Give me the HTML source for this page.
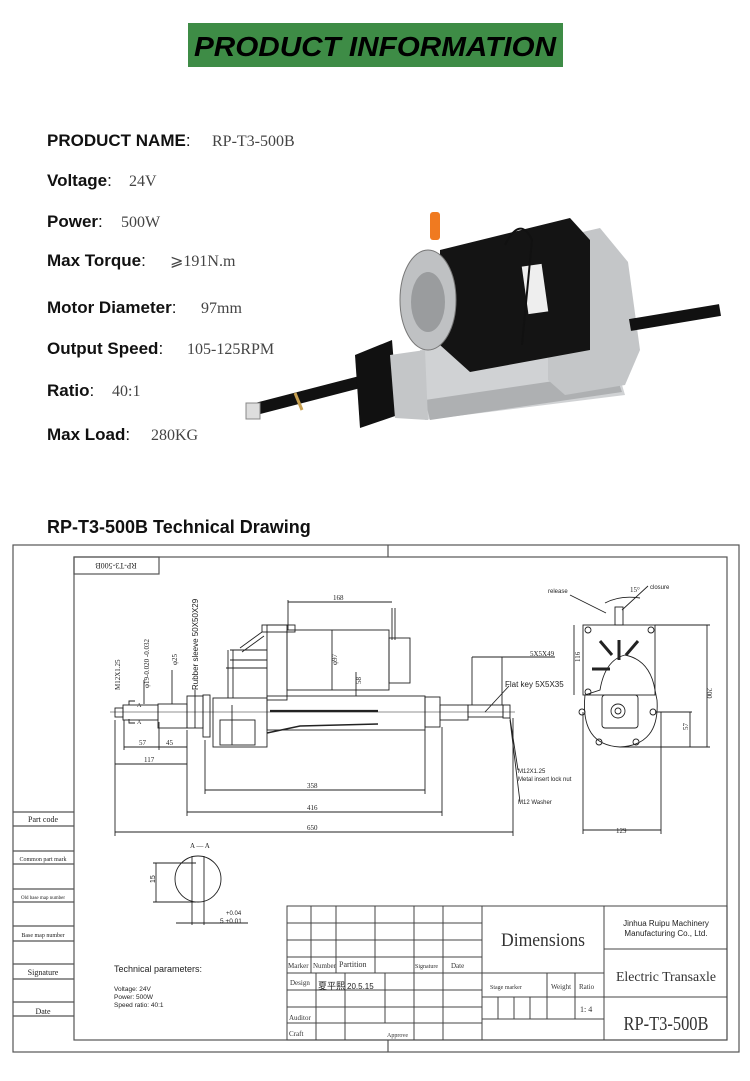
<!DOCTYPE html>
<html><head><meta charset="utf-8"><style>
html,body{margin:0;padding:0;background:#fff;width:750px;height:1081px;overflow:hidden}
svg{display:block}
</style></head><body>
<svg width="750" height="1081" viewBox="0 0 750 1081" xmlns="http://www.w3.org/2000/svg" font-family="Liberation Sans, sans-serif">
<!-- Header -->
<rect x="188" y="23" width="375" height="44" fill="#3e8c46"/>
<text x="375" y="56" text-anchor="middle" font-size="28" font-weight="bold" font-style="italic" fill="#000" textLength="362" lengthAdjust="spacingAndGlyphs">PRODUCT INFORMATION</text>

<g font-size="17" font-weight="bold" fill="#111">
<text x="47" y="146">PRODUCT NAME<tspan font-weight="normal">:</tspan></text>
<text x="47" y="186">Voltage<tspan font-weight="normal">:</tspan></text>
<text x="47" y="227">Power<tspan font-weight="normal">:</tspan></text>
<text x="47" y="266">Max Torque<tspan font-weight="normal">:</tspan></text>
<text x="47" y="313">Motor Diameter<tspan font-weight="normal">:</tspan></text>
<text x="47" y="354">Output Speed<tspan font-weight="normal">:</tspan></text>
<text x="47" y="396">Ratio<tspan font-weight="normal">:</tspan></text>
<text x="47" y="440">Max Load<tspan font-weight="normal">:</tspan></text>
</g>
<g font-family="Liberation Serif, serif" font-size="16" fill="#444">
<text x="212" y="146">RP-T3-500B</text>
<text x="129" y="186">24V</text>
<text x="121" y="227">500W</text>
<text x="170" y="266">⩾191N.m</text>
<text x="201" y="313">97mm</text>
<text x="187" y="354">105-125RPM</text>
<text x="112" y="396">40:1</text>
<text x="151" y="440">280KG</text>
</g>

<!-- Photo approximation -->
<g>
<line x1="252" y1="410" x2="360" y2="382" stroke="#111" stroke-width="12"/>
<rect x="246" y="403" width="14" height="16" fill="#ddd" stroke="#888"/>
<line x1="295" y1="393" x2="302" y2="410" stroke="#c8a050" stroke-width="3"/>
<polygon points="420,350 600,310 625,395 425,420" fill="#d0d2d4"/>
<polygon points="425,400 615,372 622,392 430,420" fill="#aeb0b2"/>
<polygon points="355,355 392,340 398,415 360,428" fill="#111"/>
<polygon points="390,355 425,350 428,420 395,418" fill="#c4c6c8"/>
<polygon points="548,240 600,228 628,262 640,350 625,385 565,395 548,380" fill="#c4c6c8"/>
<line x1="630" y1="325" x2="720" y2="310" stroke="#111" stroke-width="12"/>
<polygon points="440,250 570,218 590,240 590,350 470,372 440,345" fill="#141414"/>
<ellipse cx="428" cy="300" rx="28" ry="50" fill="#bfc1c3" stroke="#777"/>
<ellipse cx="428" cy="302" rx="17" ry="30" fill="#9a9c9e"/>
<rect x="525" y="265" width="20" height="48" fill="#eee" transform="rotate(-8 535 289)"/>
<rect x="430" y="212" width="10" height="28" fill="#f07a20" rx="3"/>
<path d="M505 245 Q520 215 532 240 L522 345" stroke="#111" fill="none" stroke-width="2"/>
</g>

<text x="47" y="533" font-size="18" font-weight="bold" fill="#111">RP-T3-500B Technical Drawing</text>

<!-- Drawing frame -->
<g stroke="#555" fill="none" stroke-width="1.2">
<rect x="13" y="545" width="726" height="507"/>
<rect x="74" y="557" width="653" height="483"/>
<line x1="388" y1="545" x2="388" y2="557"/>
<line x1="388" y1="1040" x2="388" y2="1052"/>
<rect x="74" y="557" width="85" height="17"/>
<line x1="13" y1="812" x2="74" y2="812"/><line x1="13" y1="826" x2="74" y2="826"/>
<line x1="13" y1="851" x2="74" y2="851"/><line x1="13" y1="864" x2="74" y2="864"/>
<line x1="13" y1="889" x2="74" y2="889"/><line x1="13" y1="902" x2="74" y2="902"/>
<line x1="13" y1="926" x2="74" y2="926"/><line x1="13" y1="941" x2="74" y2="941"/>
<line x1="13" y1="964" x2="74" y2="964"/><line x1="13" y1="979" x2="74" y2="979"/>
<line x1="13" y1="1002" x2="74" y2="1002"/><line x1="13" y1="1016" x2="74" y2="1016"/>
</g>
<g font-family="Liberation Serif, serif" fill="#222" text-anchor="middle">
<text x="116" y="569" font-size="8" transform="rotate(180 116 566)">RP-T3-500B</text>
<text x="43" y="822" font-size="8">Part code</text>
<text x="43" y="861" font-size="6">Common part mark</text>
<text x="43" y="899" font-size="5">Old base map  number</text>
<text x="43" y="937" font-size="6">Base map number</text>
<text x="43" y="975" font-size="8">Signature</text>
<text x="43" y="1014" font-size="8">Date</text>
</g>

<!-- Title block -->
<g stroke="#444" fill="none" stroke-width="1">
<rect x="287" y="906" width="440" height="134"/>
<line x1="287" y1="923" x2="482" y2="923"/><line x1="287" y1="940" x2="482" y2="940"/>
<line x1="287" y1="957" x2="482" y2="957"/><line x1="287" y1="973" x2="604" y2="973"/>
<line x1="287" y1="990" x2="482" y2="990"/><line x1="287" y1="1007" x2="482" y2="1007"/>
<line x1="287" y1="1023" x2="482" y2="1023"/>
<line x1="311" y1="906" x2="311" y2="973"/><line x1="336" y1="906" x2="336" y2="973"/>
<line x1="375" y1="906" x2="375" y2="973"/><line x1="414" y1="906" x2="414" y2="1040"/>
<line x1="443" y1="906" x2="443" y2="1040"/><line x1="482" y1="906" x2="482" y2="1040"/>
<line x1="316" y1="973" x2="316" y2="1040"/><line x1="345" y1="973" x2="345" y2="1040"/>
<line x1="385" y1="973" x2="385" y2="1023"/>
<line x1="604" y1="906" x2="604" y2="1040"/>
<line x1="604" y1="949" x2="727" y2="949"/><line x1="604" y1="997" x2="727" y2="997"/>
<line x1="482" y1="997" x2="604" y2="997"/><line x1="482" y1="1019" x2="604" y2="1019"/>
<line x1="547" y1="973" x2="547" y2="1019"/><line x1="575" y1="973" x2="575" y2="1019"/>
<line x1="498" y1="997" x2="498" y2="1019"/><line x1="514" y1="997" x2="514" y2="1019"/><line x1="530" y1="997" x2="530" y2="1019"/>
</g>
<g font-family="Liberation Serif, serif" fill="#333" font-size="7">
<text x="288" y="968">Marker</text><text x="313" y="968">Number</text><text x="339" y="967" font-size="8">Partition</text>
<text x="415" y="968" font-size="6">Signature</text><text x="451" y="968">Date</text>
<text x="290" y="985">Design</text>
<text x="289" y="1020">Auditor</text><text x="289" y="1036">Craft</text><text x="387" y="1037" font-size="6">Approve</text>
<text x="490" y="989" font-size="6">Stage marker</text><text x="551" y="989">Weight</text><text x="579" y="989">Ratio</text>
<text x="580" y="1012" font-size="8">1: 4</text>
<text x="543" y="946" font-size="19" text-anchor="middle" textLength="84" lengthAdjust="spacingAndGlyphs">Dimensions</text>
<text x="666" y="981" font-size="14" text-anchor="middle" textLength="100" lengthAdjust="spacingAndGlyphs">Electric Transaxle</text>
<text x="666" y="1030" font-size="20" text-anchor="middle" textLength="85" lengthAdjust="spacingAndGlyphs">RP-T3-500B</text>
</g>
<g font-family="Liberation Sans, 'Noto Sans CJK SC', sans-serif" fill="#222">
<text x="318" y="989" font-size="9">夏平熙</text>
<text x="347" y="989" font-size="8">20.5.15</text>
<text x="666" y="926" font-size="8" text-anchor="middle">Jinhua Ruipu Machinery</text>
<text x="666" y="936" font-size="8" text-anchor="middle">Manufacturing Co., Ltd.</text>
<text x="114" y="972" font-size="9">Technical parameters:</text>
<text x="114" y="991" font-size="6.5">Voltage: 24V</text>
<text x="114" y="999" font-size="6.5">Power: 500W</text>
<text x="114" y="1007" font-size="6.5">Speed ratio: 40:1</text>
</g>

<!-- Section A-A -->
<g stroke="#222" fill="none" stroke-width="0.9">
<circle cx="198" cy="879" r="23"/>
<line x1="192" y1="856" x2="192" y2="925"/><line x1="204" y1="856" x2="204" y2="925"/>
<line x1="153" y1="863" x2="196" y2="863"/><line x1="153" y1="902" x2="196" y2="902"/>
<line x1="156" y1="863" x2="156" y2="902"/>
<line x1="176" y1="923" x2="248" y2="923"/>
</g>
<g fill="#222" font-size="7">
<text x="190" y="848" font-family="Liberation Serif, serif">A — A</text>
<text x="153" y="885" transform="rotate(-90 153 883)">15</text>
<text x="226" y="915" font-size="6">+0.04</text>
<text x="220" y="923" font-size="6.5">5 +0.01</text>
</g>

<!-- Front view -->
<g stroke="#222" fill="none" stroke-width="0.9">
<line x1="110" y1="712" x2="515" y2="712" stroke-width="0.5"/>
<rect x="115" y="708" width="8" height="9"/>
<rect x="123" y="705" width="35" height="15"/>
<rect x="158" y="704" width="29" height="24"/>
<rect x="187" y="696" width="16" height="32"/>
<rect x="203" y="695" width="7" height="42"/>
<rect x="213" y="698" width="54" height="49"/>
<rect x="267" y="696" width="158" height="34"/>
<rect x="425" y="697" width="15" height="30"/>
<rect x="440" y="705" width="28" height="15"/>
<rect x="468" y="705" width="35" height="12"/>
<rect x="503" y="705" width="7" height="13"/>
<line x1="270" y1="711" x2="378" y2="711" stroke-width="2.2"/>
<path d="M267 733 L300 726 L378 724" stroke-width="1.5"/>
<rect x="287" y="630" width="102" height="60"/>
<rect x="267" y="625" width="20" height="75"/>
<rect x="262" y="625" width="33" height="7"/>
<rect x="389" y="638" width="21" height="45"/>
<line x1="392" y1="608" x2="392" y2="640"/><line x1="395" y1="608" x2="395" y2="640"/>
<line x1="230" y1="650" x2="267" y2="650"/><line x1="230" y1="660" x2="267" y2="660"/>
<line x1="226" y1="668" x2="267" y2="668"/><line x1="228" y1="650" x2="228" y2="698"/>
<line x1="233" y1="650" x2="233" y2="698"/>
<line x1="240" y1="648" x2="262" y2="632"/><line x1="242" y1="652" x2="264" y2="636"/>
<rect x="220" y="720" width="35" height="25"/>
<line x1="232" y1="705" x2="232" y2="745"/>
<line x1="288" y1="602" x2="392" y2="602"/><line x1="288" y1="600" x2="288" y2="630"/>
<line x1="115" y1="720" x2="115" y2="836"/><line x1="513" y1="718" x2="513" y2="836"/>
<line x1="115" y1="832" x2="513" y2="832"/>
<line x1="187" y1="730" x2="187" y2="816"/><line x1="442" y1="727" x2="442" y2="816"/>
<line x1="187" y1="812" x2="442" y2="812"/>
<line x1="205" y1="740" x2="205" y2="794"/><line x1="425" y1="730" x2="425" y2="794"/>
<line x1="205" y1="790" x2="425" y2="790"/>
<line x1="115" y1="764" x2="187" y2="764"/>
<line x1="124" y1="747" x2="187" y2="747"/><line x1="124" y1="720" x2="124" y2="750"/><line x1="159" y1="722" x2="159" y2="750"/>
<line x1="332" y1="630" x2="332" y2="690"/><line x1="356" y1="672" x2="356" y2="696"/>
<line x1="144" y1="680" x2="144" y2="704"/><line x1="172" y1="670" x2="172" y2="704"/>
<line x1="195" y1="690" x2="195" y2="728"/>
<line x1="472" y1="657" x2="472" y2="705"/><line x1="502" y1="657" x2="502" y2="705"/>
<line x1="472" y1="657" x2="555" y2="657"/>
<line x1="485" y1="712" x2="509" y2="686"/>
<path d="M510 718 L518 770 M510 720 L520 802"/>
<path d="M129 705 v-4 h6 M129 719 v4 h6"/>
</g>
<g fill="#222" font-size="7" font-family="Liberation Serif, serif">
<text x="333" y="600">168</text>
<text x="307" y="830">650</text>
<text x="307" y="810">416</text>
<text x="307" y="788">358</text>
<text x="144" y="762">117</text>
<text x="139" y="745">57</text>
<text x="166" y="745">45</text>
<text x="118" y="692" transform="rotate(-90 118 690)">M12X1.25</text>
<text x="147" y="690" transform="rotate(-90 147 688)">φ19-0.020 -0.032</text>
<text x="175" y="667" transform="rotate(-90 175 665)">φ25</text>
<text x="335" y="667" transform="rotate(-90 335 665)">φ97</text>
<text x="359" y="686" transform="rotate(-90 359 684)">58</text>
<text x="530" y="656">5X5X49</text>
<text x="137" y="707" font-size="6">A</text><text x="137" y="724" font-size="6">A</text>
</g>
<g fill="#222" font-family="Liberation Sans, sans-serif">
<text x="198" y="690" font-size="8" transform="rotate(-90 198 690)">Rubber sleeve 50X50X29</text>
<text x="505" y="687" font-size="8">Flat key 5X5X35</text>
<text x="518" y="773" font-size="6">M12X1.25</text>
<text x="518" y="781" font-size="6">Metal insert lock nut</text>
<text x="518" y="804" font-size="6">M12 Washer</text>
<text x="548" y="593" font-size="6">release</text>
<text x="650" y="589" font-size="6">closure</text>
</g>

<!-- Side view -->
<g stroke="#222" fill="none" stroke-width="0.9">
<rect x="583" y="625" width="72" height="70"/>
<path d="M585 695 Q580 745 620 747 Q660 745 657 700 L655 690 Q650 660 625 655 Q605 660 600 690 Z"/>
<rect x="602" y="695" width="36" height="33" rx="3"/>
<circle cx="618" cy="711" r="7"/><circle cx="618" cy="711" r="3"/>
<rect x="615" y="607" width="8" height="18"/>
<line x1="619" y1="640" x2="619" y2="660" stroke-width="3"/>
<line x1="600" y1="641" x2="612" y2="655" stroke-width="3"/>
<line x1="638" y1="641" x2="626" y2="655" stroke-width="3"/>
<line x1="592" y1="669" x2="610" y2="669" stroke-width="3"/>
<circle cx="588" cy="630" r="3"/><circle cx="651" cy="630" r="3"/>
<circle cx="588" cy="692" r="3"/><circle cx="582" cy="712" r="3"/><circle cx="653" cy="712" r="3"/>
<circle cx="599" cy="742" r="3"/><circle cx="636" cy="742" r="3"/>
<line x1="574" y1="625" x2="574" y2="695"/>
<line x1="655" y1="625" x2="710" y2="625"/><line x1="707" y1="625" x2="707" y2="747"/>
<line x1="620" y1="747" x2="710" y2="747"/>
<line x1="655" y1="712" x2="692" y2="712"/><line x1="690" y1="712" x2="690" y2="747"/>
<line x1="583" y1="712" x2="583" y2="834"/><line x1="661" y1="712" x2="661" y2="834"/>
<line x1="583" y1="830" x2="661" y2="830"/>
<line x1="570" y1="595" x2="606" y2="613"/><line x1="648" y1="586" x2="622" y2="610"/>
<path d="M605 603 Q620 595 640 598"/>
</g>
<g fill="#222" font-size="7" font-family="Liberation Serif, serif">
<text x="616" y="833">129</text>
<text x="711" y="692" transform="rotate(90 711 688)">200</text>
<text x="683" y="735" transform="rotate(-90 683 730)">57</text>
<text x="576" y="666" transform="rotate(-90 576 662)">116</text>
<text x="630" y="592">15°</text>
</g>
</svg>
</body></html>
